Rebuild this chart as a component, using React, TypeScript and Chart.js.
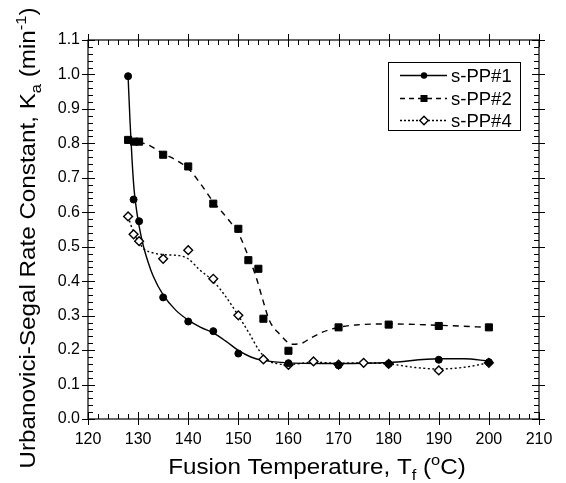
import React, { useEffect, useRef } from "react";
import { Chart, registerables } from "chart.js";

Chart.register(...registerables);

const tempPP1 = [128, 129.1, 130.2, 135, 140, 145, 150, 160, 170, 180, 190, 200];
const kPP1 = [0.995, 0.637, 0.574, 0.353, 0.283, 0.255, 0.19, 0.162, 0.156, 0.16, 0.172, 0.165];

const tempPP2 = [128, 129.2, 130.2, 135, 140, 145, 150, 152, 154, 155, 160, 170, 180, 190, 200];
const kPP2 = [0.81, 0.805, 0.805, 0.767, 0.733, 0.625, 0.552, 0.461, 0.436, 0.291, 0.198, 0.266, 0.274, 0.27, 0.266];

const tempPP4 = [128, 129.1, 130.2, 135, 140, 145, 150, 155, 160, 165, 170, 175, 180, 190, 200];
const kPP4 = [0.588, 0.536, 0.516, 0.465, 0.49, 0.407, 0.301, 0.173, 0.157, 0.167, 0.158, 0.163, 0.16, 0.141, 0.163];

// smooth fitted curves as drawn in the reference
const fitTempPP1 = [128, 128.4, 128.8, 129.2, 129.7, 130.2, 131, 132, 133, 135, 137.5, 140, 142.5, 145, 147.5, 150, 152.5, 155, 160, 170, 180, 190, 195, 200];
const fitKPP1 = [0.995, 0.86, 0.75, 0.665, 0.605, 0.56, 0.505, 0.455, 0.415, 0.36, 0.316, 0.287, 0.266, 0.25, 0.226, 0.199, 0.18, 0.17, 0.163, 0.161, 0.164, 0.175, 0.175, 0.168];

const fitTempPP2 = [128, 130, 132.5, 135, 137.5, 140, 142.5, 145, 146.8, 148.5, 150, 151.5, 153.5, 154.9, 156.2, 158.2, 160.8, 163, 164.1, 166.8, 170, 173.5, 180, 190, 200];
const fitKPP2 = [0.81, 0.805, 0.792, 0.77, 0.752, 0.727, 0.682, 0.63, 0.6, 0.57, 0.54, 0.49, 0.414, 0.345, 0.286, 0.247, 0.217, 0.222, 0.232, 0.252, 0.266, 0.273, 0.276, 0.272, 0.266];

const fitTempPP4 = [128, 129, 130.2, 131.2, 133, 135.2, 138.2, 140, 142.2, 145, 147.5, 150, 152.2, 154.2, 156.2, 158, 160, 165, 170, 175, 180, 185, 190, 195, 200];
const fitKPP4 = [0.588, 0.545, 0.512, 0.493, 0.482, 0.477, 0.474, 0.465, 0.434, 0.4, 0.355, 0.3, 0.248, 0.198, 0.168, 0.16, 0.158, 0.165, 0.162, 0.163, 0.16, 0.15, 0.145, 0.15, 0.163];

const seriesNames = ["s-PP#1", "s-PP#2", "s-PP#4"];

const xMin = 120, xMax = 210, xMajor = 10, xMinor = 2;
const yMin = 0, yMax = 1.1, yMajor = 0.1, yMinor = 0.02;

type Part = { t: string; s?: "sub" | "sup" };
const xTitleParts: Part[] = [
  { t: "Fusion Temperature, T" },
  { t: "f", s: "sub" },
  { t: " (" },
  { t: "o", s: "sup" },
  { t: "C)" },
];
const yTitleParts: Part[] = [
  { t: "Urbanovici-Segal Rate Constant, K" },
  { t: "a", s: "sub" },
  { t: " (min" },
  { t: "-1", s: "sup" },
  { t: ")" },
];

const FONT = "'Liberation Sans', Arial, Helvetica, sans-serif";

const toXY = (xs: number[], ys: number[]) => xs.map((x, i) => ({ x, y: ys[i] }));

function richWidth(ctx: CanvasRenderingContext2D, parts: Part[], size: number) {
  let w = 0;
  for (const p of parts) {
    const fs = p.s ? size * 0.68 : size;
    ctx.font = `${fs}px ${FONT}`;
    w += ctx.measureText(p.t).width;
  }
  return w;
}

// draws text centred on cx with baseline at 'baseline'; stretch widens horizontally
function drawRich(ctx: CanvasRenderingContext2D, parts: Part[], cx: number, baseline: number, size: number, stretch: number) {
  ctx.save();
  ctx.translate(cx, baseline);
  ctx.scale(stretch, 1);
  const total = richWidth(ctx, parts, size);
  let x = -total / 2;
  ctx.textAlign = "left";
  ctx.textBaseline = "alphabetic";
  for (const p of parts) {
    const fs = p.s ? size * 0.68 : size;
    ctx.font = `${fs}px ${FONT}`;
    let y = 0;
    if (p.s === "sub") y += size * 0.28;
    if (p.s === "sup") y -= size * 0.42;
    ctx.fillText(p.t, x, y);
    x += ctx.measureText(p.t).width;
  }
  ctx.restore();
}

const framePlugin = {
  id: "frameTicks",
  afterDraw(chart: any) {
    const ctx: CanvasRenderingContext2D = chart.ctx;
    const { left, right, top, bottom } = chart.chartArea;
    const xs = chart.scales.x;
    const ys = chart.scales.y;
    ctx.save();
    ctx.strokeStyle = "#000";
    ctx.lineWidth = 1.2;
    ctx.setLineDash([]);
    ctx.strokeRect(left, top, right - left, bottom - top);
    ctx.beginPath();
    const nx = Math.round((xMax - xMin) / xMinor);
    for (let i = 0; i <= nx; i++) {
      const v = xMin + i * xMinor;
      const px = Math.round(xs.getPixelForValue(v)) + 0.5;
      const major = i % Math.round(xMajor / xMinor) === 0;
      if (major) {
        ctx.moveTo(px, bottom + 6); ctx.lineTo(px, bottom - 7);
        ctx.moveTo(px, top - 6); ctx.lineTo(px, top + 7);
      } else {
        ctx.moveTo(px, bottom); ctx.lineTo(px, bottom - 5);
        ctx.moveTo(px, top); ctx.lineTo(px, top + 5);
      }
    }
    const ny = Math.round((yMax - yMin) / yMinor);
    for (let i = 0; i <= ny; i++) {
      const v = yMin + i * yMinor;
      const py = Math.round(ys.getPixelForValue(v)) + 0.5;
      const major = i % Math.round(yMajor / yMinor) === 0;
      if (major) {
        ctx.moveTo(left - 6, py); ctx.lineTo(left + 7, py);
        ctx.moveTo(right + 6, py); ctx.lineTo(right - 7, py);
      } else {
        ctx.moveTo(left, py); ctx.lineTo(left + 5, py);
        ctx.moveTo(right, py); ctx.lineTo(right - 5, py);
      }
    }
    ctx.lineWidth = 1;
    ctx.stroke();

    // axis titles
    ctx.fillStyle = "#000";
    drawRich(ctx, xTitleParts, 317, 474, 22, 1.1);
    ctx.save();
    ctx.translate(35, 238);
    ctx.rotate(-Math.PI / 2);
    drawRich(ctx, yTitleParts, 0, 0, 22, 1.1);
    ctx.restore();

    // legend
    const bx = 388, by = 62, bw = 132, bh = 68;
    ctx.fillStyle = "#fff";
    ctx.fillRect(bx, by, bw, bh);
    ctx.strokeStyle = "#000";
    ctx.lineWidth = 1;
    ctx.strokeRect(bx + 0.5, by + 0.5, bw, bh);
    const rows = [75, 98, 120];
    const dashes = [[], [5, 4], [2, 2]];
    for (let i = 0; i < 3; i++) {
      const y = rows[i] + 0.5;
      ctx.beginPath();
      ctx.setLineDash(dashes[i]);
      ctx.lineWidth = 1.3;
      ctx.moveTo(400, y);
      ctx.lineTo(447, y);
      ctx.stroke();
      ctx.setLineDash([]);
      const ds = chart.data.datasets[i];
      ctx.fillStyle = ds.pointBackgroundColor;
      ctx.strokeStyle = "#000";
      ctx.lineWidth = ds.pointBorderWidth;
      ctx.beginPath();
      if (i === 0) {
        ctx.arc(424, y, 3.2, 0, Math.PI * 2);
        ctx.fill();
      } else if (i === 1) {
        ctx.fillStyle = "#000";
        ctx.fillRect(420.5, y - 3.5, 7, 7);
      } else {
        ctx.moveTo(424, y - 4.2); ctx.lineTo(428.2, y); ctx.lineTo(424, y + 4.2); ctx.lineTo(419.8, y); ctx.closePath();
        ctx.fill();
        ctx.stroke();
      }
      ctx.fillStyle = "#000";
      ctx.font = `18.5px ${FONT}`;
      ctx.textAlign = "left";
      ctx.textBaseline = "middle";
      ctx.fillText(seriesNames[i], 451, y + 1);
    }
    ctx.restore();
  },
};

export default function App() {
  const ref = useRef<HTMLCanvasElement | null>(null);
  useEffect(() => {
    if (!ref.current) return;
    const chart = new Chart(ref.current, {
      type: "scatter",
      data: {
        datasets: [
          {
            label: seriesNames[0],
            data: toXY(tempPP1, kPP1),
            showLine: false,
            pointStyle: "circle",
            pointRadius: 3.5,
            pointBackgroundColor: "#000",
            pointBorderColor: "#000",
            pointBorderWidth: 1,
          },
          {
            label: seriesNames[1],
            data: toXY(tempPP2, kPP2),
            showLine: false,
            pointStyle: "rect",
            pointRadius: 5,
            pointBackgroundColor: "#000",
            pointBorderColor: "#000",
            pointBorderWidth: 1,
          },
          {
            label: seriesNames[2],
            data: toXY(tempPP4, kPP4),
            showLine: false,
            pointStyle: "rectRot",
            pointRadius: 4.4,
            pointBackgroundColor: "#fff",
            pointBorderColor: "#000",
            pointBorderWidth: 1.4,
          },
          {
            label: "fit1",
            data: toXY(fitTempPP1, fitKPP1),
            showLine: true,
            pointRadius: 0,
            borderColor: "#000",
            borderWidth: 1.4,
            cubicInterpolationMode: "monotone",
          },
          {
            label: "fit2",
            data: toXY(fitTempPP2, fitKPP2),
            showLine: true,
            pointRadius: 0,
            borderColor: "#000",
            borderWidth: 1.4,
            borderDash: [6, 5],
            cubicInterpolationMode: "monotone",
          },
          {
            label: "fit4",
            data: toXY(fitTempPP4, fitKPP4),
            showLine: true,
            pointRadius: 0,
            borderColor: "#000",
            borderWidth: 1.4,
            borderDash: [2, 2.5],
            cubicInterpolationMode: "monotone",
          },
        ],
      } as any,
      options: {
        responsive: false,
        maintainAspectRatio: false,
        animation: false,
        devicePixelRatio: 1,
        layout: { padding: { top: 40, right: 27, left: 0, bottom: 0 } },
        plugins: { legend: { display: false }, tooltip: { enabled: false } },
        scales: {
          x: {
            type: "linear",
            min: xMin,
            max: xMax,
            afterFit: (s: any) => { s.height = 64; },
            grid: { display: false, drawTicks: true, tickLength: 6 },
            border: { display: false },
            ticks: {
              stepSize: xMajor,
              padding: 5,
              color: "#000",
              font: { family: FONT, size: 16 },
              maxRotation: 0,
              callback: (v: any) => String(Math.round(Number(v))),
            },
          },
          y: {
            type: "linear",
            min: yMin,
            max: yMax,
            afterFit: (s: any) => { s.width = 88; },
            grid: { display: false, drawTicks: true, tickLength: 6 },
            border: { display: false },
            ticks: {
              stepSize: yMajor,
              padding: 2,
              color: "#000",
              font: { family: FONT, size: 16 },
              callback: (v: any) => Number(v).toFixed(1),
            },
          },
        },
      } as any,
      plugins: [framePlugin],
    });
    return () => chart.destroy();
  }, []);
  return (
    <div style={{ position: "absolute", left: 0, top: 0, width: 566, height: 483, background: "#fff" }}>
      <canvas ref={ref} width={566} height={483} style={{ width: 566, height: 483, display: "block" }} />
    </div>
  );
}
